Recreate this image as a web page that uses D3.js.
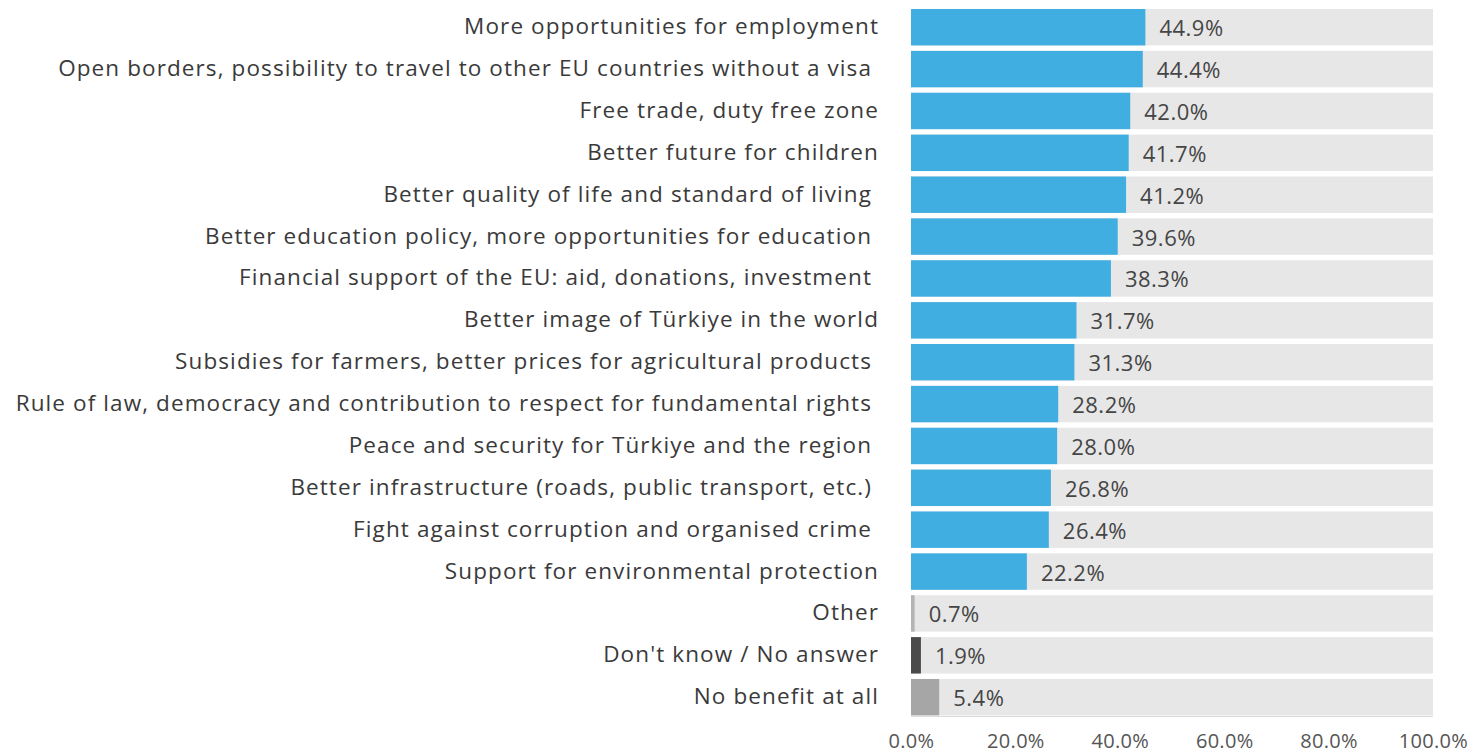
<!DOCTYPE html>
<html>
<head>
<meta charset="utf-8">
<script src="https://cdn.jsdelivr.net/npm/d3@7"></script>
<style>
  body { margin: 0; background: #fff; }
  text { font-family: "Open Sans", sans-serif; white-space: pre; }
</style>
</head>
<body>
<script>
var categories = [
  "More opportunities for employment",
  "Open borders, possibility to travel to other EU countries without a visa ",
  "Free trade, duty free zone",
  "Better future for children",
  "Better quality of life and standard of living ",
  "Better education policy, more opportunities for education ",
  "Financial support of the EU: aid, donations, investment ",
  "Better image of Türkiye in the world",
  "Subsidies for farmers, better prices for agricultural products ",
  "Rule of law, democracy and contribution to respect for fundamental rights ",
  "Peace and security for Türkiye and the region ",
  "Better infrastructure (roads, public transport, etc.) ",
  "Fight against corruption and organised crime ",
  "Support for environmental protection",
  "Other",
  "Don't know / No answer",
  "No benefit at all"
];
var values = [44.9, 44.4, 42.0, 41.7, 41.2, 39.6, 38.3, 31.7, 31.3, 28.2, 28.0, 26.8, 26.4, 22.2, 0.7, 1.9, 5.4];
var barColors = ["#41aee2", "#41aee2", "#41aee2", "#41aee2", "#41aee2", "#41aee2", "#41aee2",
  "#41aee2", "#41aee2", "#41aee2", "#41aee2", "#41aee2", "#41aee2", "#41aee2",
  "#b4b4b4", "#4a4a4a", "#a6a6a6"];
var ticks = [0, 20, 40, 60, 80, 100];

var w = 1472, h = 755;
var svg = d3.select("body").append("svg").attr("width", w).attr("height", h);

var x = d3.scaleLinear().domain([0, 100]).range([911, 1433]);
var y = d3.scaleBand().domain(categories).range([9, 715.4]).paddingInner(0.13).paddingOuter(0);

var data = categories.map(function(c, i) { return { cat: c, val: values[i], color: barColors[i] }; });

// grey track behind each bar
svg.append("g").selectAll("rect").data(data).enter()
  .append("rect")
  .attr("x", x(0))
  .attr("y", function(d) { return y(d.cat); })
  .attr("width", x(100) - x(0))
  .attr("height", y.bandwidth())
  .attr("fill", "#e7e7e7");

svg.append("g").selectAll("rect").data(data).enter()
  .append("rect")
  .attr("x", x(0))
  .attr("y", function(d) { return y(d.cat); })
  .attr("width", function(d) { return x(d.val) - x(0); })
  .attr("height", y.bandwidth())
  .attr("fill", function(d) { return d.color; });

// value labels
svg.append("g").selectAll("text").data(data).enter()
  .append("text")
  .attr("x", function(d) { return x(d.val) + 14; })
  .attr("y", function(d) { return y(d.cat) + y.bandwidth() / 2 + 9; })
  .attr("font-size", 22)
  .attr("letter-spacing", 0.5)
  .attr("fill", "#454545")
  .text(function(d) { return d.val.toFixed(1) + "%"; });

// category labels
svg.append("g").selectAll("text").data(data).enter()
  .append("text")
  .attr("x", 879)
  .attr("y", function(d) { return y(d.cat) + y.bandwidth() / 2 + 7; })
  .attr("text-anchor", "end")
  .attr("font-size", 22.5)
  .attr("letter-spacing", 1.1)
  .attr("fill", "#3a3a3a")
  .text(function(d) { return d.cat; });

// baseline under last bar
svg.append("line")
  .attr("x1", x(0)).attr("x2", x(100))
  .attr("y1", 716.5).attr("y2", 716.5)
  .attr("stroke", "#dcdcdc").attr("stroke-width", 1);

// x axis
var axis = svg.append("g")
  .attr("transform", "translate(0,722)")
  .call(d3.axisBottom(x).tickValues(ticks).tickSize(0).tickPadding(0)
    .tickFormat(function(d) { return d.toFixed(1) + "%"; }));
axis.select(".domain").remove();
axis.selectAll("text")
  .attr("dy", "0")
  .attr("y", 26)
  .attr("font-size", 20)
  .attr("letter-spacing", 0.3)
  .attr("font-family", "Open Sans, sans-serif")
  .attr("fill", "#555");
</script>
</body>
</html>
